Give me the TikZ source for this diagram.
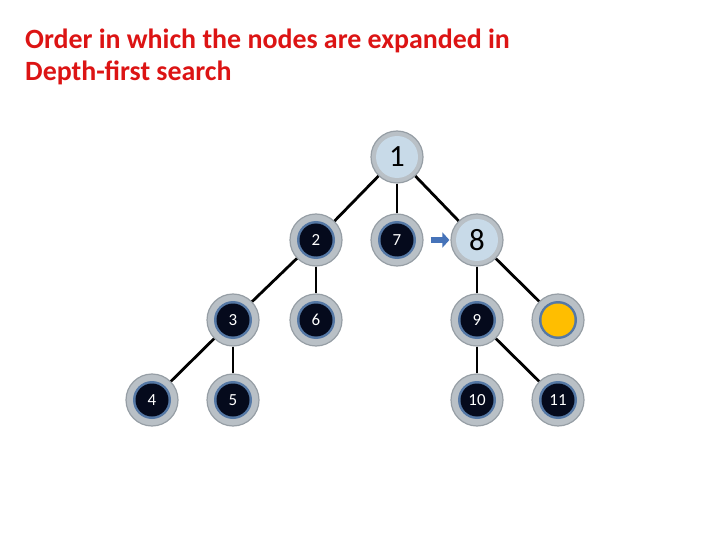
\documentclass[tikz,border=0pt]{standalone}
\usepackage{fontspec}
\setmainfont{Carlito}
\usepackage{xcolor}
\usepackage{tikz}
\usetikzlibrary{arrows.meta}
\definecolor{titlered}{RGB}{220,20,20}
\definecolor{ringgray}{RGB}{185,192,198}
\definecolor{ringedge}{RGB}{150,158,165}
\definecolor{ringblue}{RGB}{85,120,165}
\definecolor{nodedark}{RGB}{5,10,28}
\definecolor{lightfill}{RGB}{200,218,232}
\definecolor{goalyellow}{RGB}{255,190,0}
\definecolor{arrowblue}{RGB}{70,115,185}

\begin{document}
\begin{tikzpicture}[x=1bp,y=-1bp,
    ring/.style={circle,minimum size=52bp,inner sep=0pt,draw=ringedge,line width=1.2bp,fill=ringgray},
    opened/.style={ring,text=white,font=\fontsize{17}{17}\selectfont,
      path picture={\fill[ringblue] (path picture bounding box.center) circle (19bp);
                    \fill[nodedark] (path picture bounding box.center) circle (16.5bp);}},
    expanded/.style={ring,font=\fontsize{31}{31}\selectfont,
      path picture={\fill[lightfill] (path picture bounding box.center) circle (21bp);}},
    goal/.style={ring,
      path picture={\fill[ringblue] (path picture bounding box.center) circle (19bp);
                    \fill[goalyellow] (path picture bounding box.center) circle (16.5bp);}},
    edge/.style={line width=2.8bp,black}]
  \useasboundingbox (0,0) rectangle (720,540);
  % title
  \node[anchor=north west,align=left,text=titlered,inner sep=0pt,
        font=\bfseries\fontsize{28}{32}\selectfont] (title) at (25,29)
       {Order in which the nodes are expanded in\\Depth-first search};
  % expanded nodes
  \node[expanded] (n1) at (397,157) {1};
  \node[expanded] (n8) at (477,240) {8};
  % opened nodes
  \node[opened] (n2) at (316,240) {2};
  \node[opened] (n7) at (397,240) {7};
  \node[opened] (n3) at (233,320) {3};
  \node[opened] (n6) at (316,320) {6};
  \node[opened] (n9) at (477,320) {9};
  \node[goal] (ng) at (558,320) {};
  \node[opened] (n4) at (152,400) {4};
  \node[opened] (n5) at (233,400) {5};
  \node[opened] (n10) at (477,400) {10};
  \node[opened] (n11) at (558,400) {11};
  % tree edges
  \draw[edge] (n1) -- (n2);
  \draw[edge] (n1) -- (n7);
  \draw[edge] (n1) -- (n8);
  \draw[edge] (n2) -- (n3);
  \draw[edge] (n2) -- (n6);
  \draw[edge] (n3) -- (n4);
  \draw[edge] (n3) -- (n5);
  \draw[edge] (n8) -- (n9);
  \draw[edge] (n8) -- (ng);
  \draw[edge] (n9) -- (n10);
  \draw[edge] (n9) -- (n11);
  % next step
  \draw[arrowblue,line width=6bp,shorten <=7bp,shorten >=1bp,
        -{Triangle[length=7bp,width=15bp]}] (n7) -- (n8);
\end{tikzpicture}
\end{document}
